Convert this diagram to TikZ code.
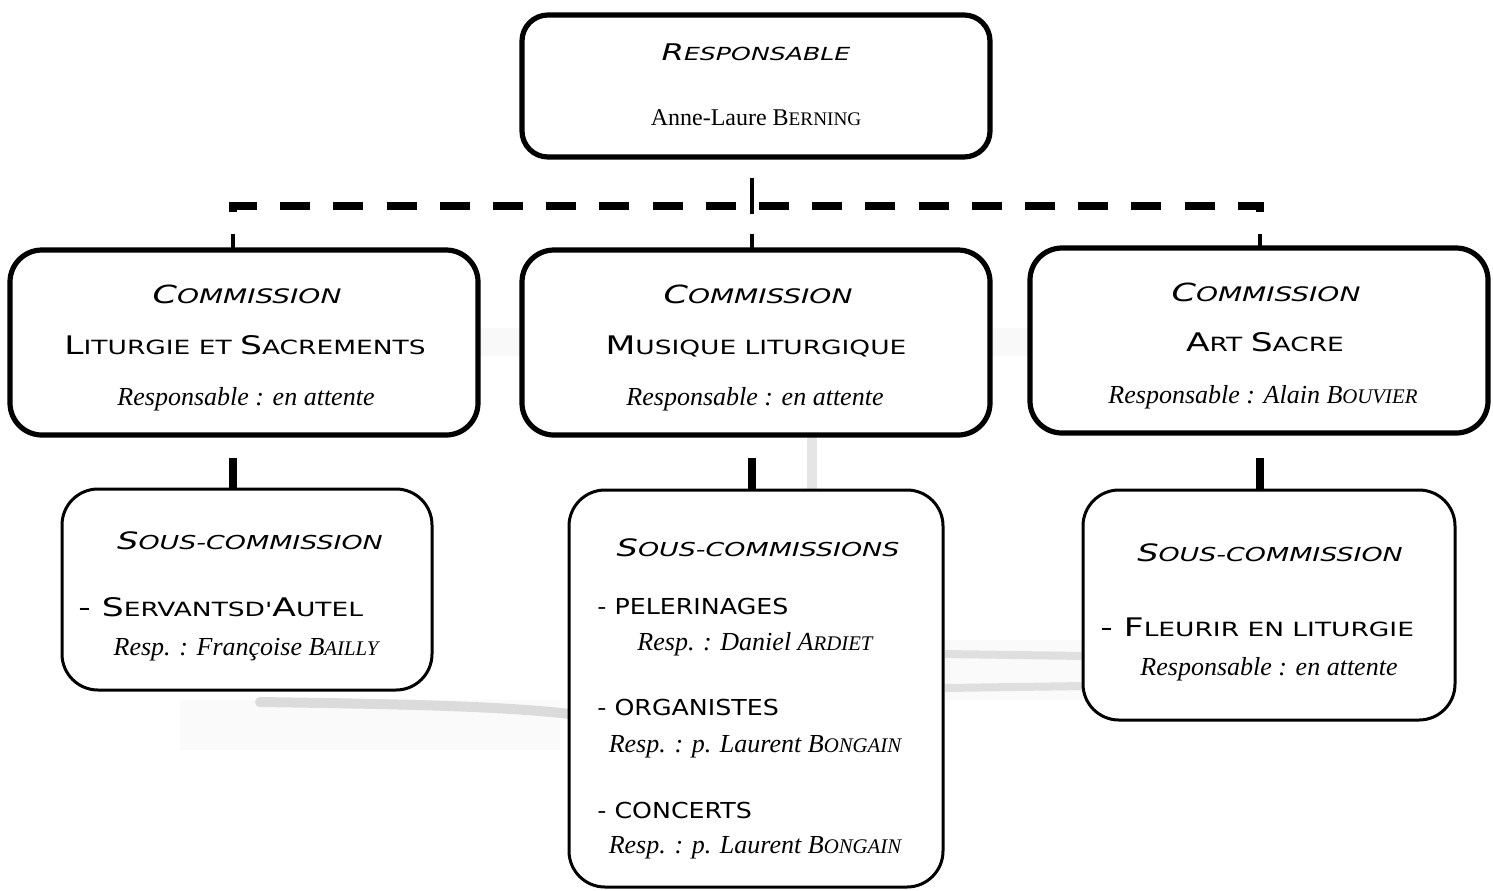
\documentclass[tikz,border=0pt]{standalone}
\usepackage{fontspec}
\setmainfont{Liberation Serif}
\newfontfamily\comic[FakeStretch=1.35]{DejaVu Sans}
\newfontfamily\comicsl[FakeStretch=1.4]{DejaVu Sans}
\newfontfamily\comicn[FakeStretch=1.15]{DejaVu Sans}
\newcommand\hd[2]{{\comicsl\itshape\fontsize{9}{10}\selectfont{\fontsize{11.5}{12}\selectfont #1}#2}}
\newcommand\hdc[2]{{\comicsl\itshape\fontsize{10}{11}\selectfont{\fontsize{12.5}{13}\selectfont #1}#2}}
\newcommand\hdb[2]{{\comicsl\itshape\fontsize{9.6}{10}\selectfont{\fontsize{12}{12}\selectfont #1}#2}}
\newcommand\ct[1]{{\comic\fontsize{9.8}{11}\selectfont #1}}
\newcommand\cb[1]{{\fontsize{12.8}{14}\selectfont #1}}
\newcommand\cu[1]{{\comicn\fontsize{11}{13}\selectfont #1}}
\newcommand\tsc[1]{{\fontsize{9.6}{11}\selectfont #1}}
\newcommand\tscb[1]{{\fontsize{10.4}{12}\selectfont #1}}
\newcommand\tm[1]{{\fontsize{12}{14}\selectfont #1}}
\newcommand\ti[1]{{\fontsize{13}{15}\selectfont\itshape #1}}
\begin{document}
\begin{tikzpicture}[x=0.5pt,y=-0.5pt,
  topbox/.style={draw,line width=2.6pt,rounded corners=13pt,fill=white,inner sep=0pt},
  combox/.style={draw,line width=2.6pt,rounded corners=16pt,fill=white,inner sep=0pt},
  subbox/.style={draw,line width=1.5pt,rounded corners=18pt,fill=white,inner sep=0pt},
  txt/.style={inner sep=0pt,anchor=base},
  ltxt/.style={inner sep=0pt,anchor=base west},
  conn/.style={line width=1.6pt},
  fatconn/.style={line width=3.6pt},
  dashbar/.style={line width=4pt,dash pattern=on 15pt off 11.6pt}]
\useasboundingbox (0,0) rectangle (1493,890);
% faint watermark
\fill[gray!5] (420,328) rectangle (1100,356);
\fill[gray!4] (180,700) rectangle (560,750);
\fill[gray!4] (945,640) rectangle (1085,700);
\draw[gray!20,line width=5pt] (812,436) -- (812,492);
\draw[gray!28,line width=5pt,line cap=round] (260,702) .. controls (400,704) and (500,706) .. (570,714);
\draw[gray!25,line width=4pt] (945,654) -- (1085,656);
\draw[gray!25,line width=4pt] (945,688) -- (1085,686);
% boxes
\node[topbox,minimum width=234pt,minimum height=71pt] (top) at (756,86) {};
\node[combox,minimum width=234pt,minimum height=92.5pt] (c1) at (244,342.5) {};
\node[combox,minimum width=234pt,minimum height=92.5pt] (c2) at (756,342.5) {};
\node[combox,minimum width=229pt,minimum height=92.5pt] (c3) at (1259,340.5) {};
\node[subbox,minimum width=185pt,minimum height=100.5pt] (s1) at (247,589.5) {};
\node[subbox,minimum width=187pt,minimum height=198.5pt] (s2) at (756,688.5) {};
\node[subbox,minimum width=186pt,minimum height=115pt] (s3) at (1269,605) {};
% connectors
\coordinate (h0) at (752,178);
\coordinate (h1) at (752,214);
\coordinate (dl0) at (233,212);
\coordinate (dl1) at (233,206);
\coordinate (dr1) at (1260,206);
\coordinate (dr0) at (1260,212);
\draw[conn] (h0) -- (h1);
\draw[dashbar] (dl0) -- (dl1) -- (dr1) -- (dr0);
\coordinate (a1) at (233,234); \coordinate (b1) at (233,250);
\coordinate (a2) at (752,234); \coordinate (b2) at (752,250);
\coordinate (a3) at (1260,234); \coordinate (b3) at (1260,248);
\draw[conn] (a1) -- (b1);
\draw[conn] (a2) -- (b2);
\draw[conn] (a3) -- (b3);
\coordinate (d1) at (233,458); \coordinate (e1) at (233,489);
\coordinate (d2) at (752,458); \coordinate (e2) at (752,490);
\coordinate (d3) at (1260,458); \coordinate (e3) at (1260,490);
\draw[fatconn] (d1) -- (e1);
\draw[fatconn] (d2) -- (e2);
\draw[fatconn] (d3) -- (e3);
% top texts
\node[txt] (t0a) at (756,60) {\hd{R}{ESPONSABLE}};
\node[txt] (t0b) at (756,125) {\tm{Anne-Laure B\tsc{ERNING}}};
% commission 1
\node[txt] (t1a) at (247,303) {\hdc{C}{OMMISSION}};
\node[txt] (t1b) at (245,354) {\ct{\cb{L}ITURGIE ET \cb{S}ACREMENTS}};
\node[txt] (t1c) at (246,405) {\ti{Responsable : en attente}};
% commission 2
\node[txt] (t2a) at (758,303) {\hdc{C}{OMMISSION}};
\node[txt] (t2b) at (756,354) {\ct{\cb{M}USIQUE LITURGIQUE}};
\node[txt] (t2c) at (755,405) {\ti{Responsable : en attente}};
% commission 3
\node[txt] (t3a) at (1266,301) {\hdc{C}{OMMISSION}};
\node[txt] (t3b) at (1265,351) {\ct{\cb{A}RT \cb{S}ACRE}};
\node[txt] (t3c) at (1263,403) {\ti{Responsable : Alain B\tscb{OUVIER}}};
% sub 1
\node[txt] (u1a) at (250,549) {\hdb{S}{OUS-COMMISSION}};
\node[ltxt] (u1b) at (78,616) {\ct{\cb{- S}ERVANTSD'\cb{A}UTEL}};
\node[txt] (u1c) at (246,655) {\ti{Resp. : Françoise B\tscb{AILLY}}};
% sub 2
\node[txt] (u2a) at (758,556) {\hdb{S}{OUS-COMMISSIONS}};
\node[ltxt] (u2b) at (597,614) {\cu{- PELERINAGES}};
\node[txt] (u2c) at (755,650) {\ti{Resp. : Daniel A\tscb{RDIET}}};
\node[ltxt] (u2d) at (597,715) {\cu{- ORGANISTES}};
\node[txt] (u2e) at (755,752) {\ti{Resp. : p. Laurent B\tscb{ONGAIN}}};
\node[ltxt] (u2f) at (597,818) {\cu{- CONCERTS}};
\node[txt] (u2g) at (755,853) {\ti{Resp. : p. Laurent B\tscb{ONGAIN}}};
% sub 3
\node[txt] (u3a) at (1270,561) {\hdb{S}{OUS-COMMISSION}};
\node[ltxt] (u3b) at (1100,636) {\ct{\cb{- F}LEURIR EN LITURGIE}};
\node[txt] (u3c) at (1269,675) {\ti{Responsable : en attente}};
\end{tikzpicture}
\end{document}
